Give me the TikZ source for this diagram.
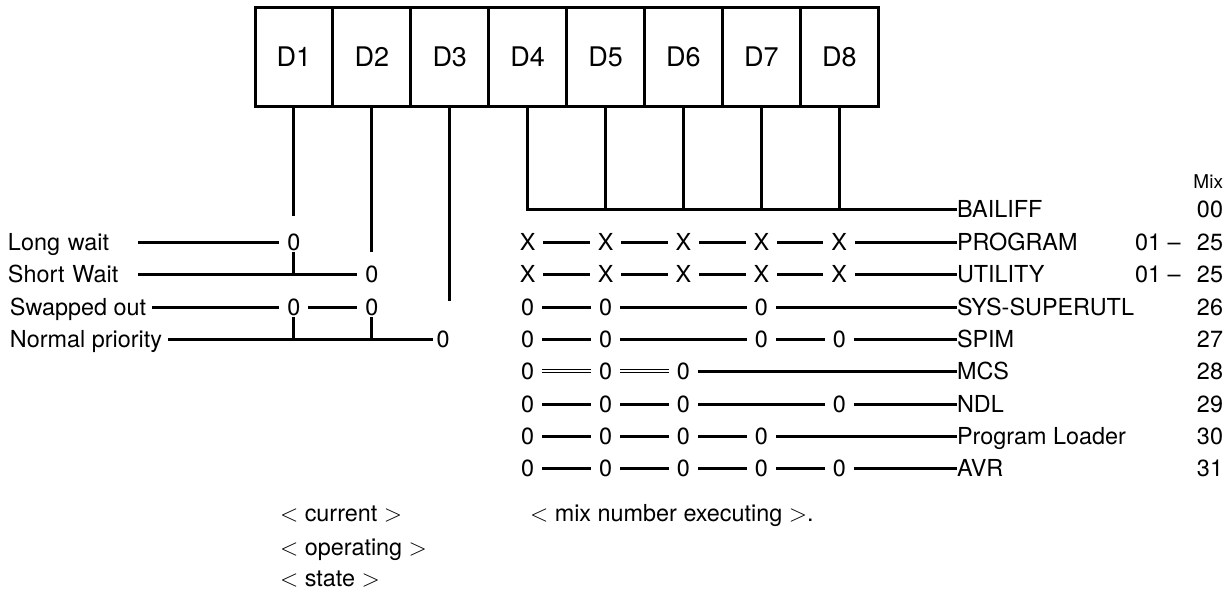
\documentclass[tikz,border=0pt]{standalone}
\usepackage{fontspec}
\setmainfont{TeX Gyre Heros}
\usetikzlibrary{calc}
\newcommand\rowfont{\fontsize{11.7}{14}\selectfont}
\newcommand\cellfont{\fontsize{13.5}{16}\selectfont}
\tikzset{
  wire/.style={line width=1.5pt},
  dbl/.style={double, line width=0.7pt, double distance=0.9pt},
  cell/.style={draw, line width=1.5pt, outer sep=0pt, inner sep=0pt,
    minimum width=38.95pt, minimum height=49.5pt, font=\cellfont},
  sym/.style={inner xsep=4pt, inner ysep=1pt, outer sep=0pt,
    text height=8.4pt, text depth=0pt, font=\rowfont},
  lab/.style={anchor=west, inner xsep=3pt, inner ysep=1pt, outer sep=0pt,
    text height=8.4pt, text depth=0pt, font=\rowfont},
  rlab/.style={lab, inner xsep=0pt},
  num/.style={lab, anchor=east, inner xsep=0pt},
}
\begin{document}
\begin{tikzpicture}[x=0.5pt, y=-0.5pt]
  \useasboundingbox (0,0) rectangle (1230,591);
  % the eight cells
  \foreach \i in {1,...,8}
    \node[cell] (d\i) at ({255+77.9*(\i-0.5)},56.5) {D\i};

  % left hand states
  \node[lab, text width=62pt] (lw) at (2,242) {Long wait};
  \node[lab, text width=62pt] (sw) at (2,274) {Short Wait};
  \node[lab] (so) at (4,307) {Swapped out};
  \node[lab] (np) at (4,339) {Normal priority};
  \node[sym] (lw0) at (d1 |- 0,242) {0};
  \node[sym] (sw0) at (d2 |- 0,274) {0};
  \node[sym] (so1) at (d1 |- 0,307) {0};
  \node[sym] (so2) at (d2 |- 0,307) {0};
  \node[sym, inner xsep=2pt] (np0) at (443,339) {0};
  \draw[wire] (lw) -- (lw0);
  \draw[wire] (sw) -- (sw0);
  \draw[wire] (so) -- (so1) -- (so2);
  \draw[wire] (np) -- (np0);
  \draw[wire, shorten >=8pt] (d1) -- (lw0);
  \draw[wire, shorten >=6pt] (d2) -- (sw0);
  \draw[wire, shorten >=14pt] (d3) -- (d3 |- np0.north);
  \draw[wire] (lw0) -- (lw0 |- sw0);
  \draw[wire] (so1) -- (so1 |- np0);
  \draw[wire] (so2) -- (so2 |- np0);

  % right hand mix names
  \node[num, font=\fontsize{9.5}{11}\selectfont] (mixh) at (1223,180) {Mix};
  \node[rlab] (bai) at (957,209) {BAILIFF};
  \node[num] (nbai) at (1223,209) {00};
  \foreach \nm/\yy/\txt/\mx in {pr/242/PROGRAM/25, ut/274/UTILITY/25,
      sy/307/SYS-SUPERUTL/26, sp/339/SPIM/27, mc/371/MCS/28,
      nd/404/NDL/29, pl/436/Program Loader/30, av/468/AVR/31}{
    \node[rlab] (\nm) at (957,\yy) {\txt};
    \node[num] (n\nm) at (1223,\yy) {\mx};
  }
  \node[rlab] (rpr) at (1135,242) {01 --};
  \node[rlab] (rut) at (1135,274) {01 --};

  % D4 - D8 onto BAILIFF
  \draw[wire] (d4) |- (bai);
  \foreach \i in {5,...,8}
    \draw[wire] (d\i) -- (d\i |- bai);

  % marks
  \foreach \c in {4,...,8} {
    \node[sym] (pr\c) at (d\c |- 0,242) {X};
    \node[sym] (ut\c) at (d\c |- 0,274) {X};
    \node[sym] (av\c) at (d\c |- 0,468) {0};
  }
  \foreach \c in {4,5,7} \node[sym] (sy\c) at (d\c |- 0,307) {0};
  \foreach \c in {4,5,7,8} \node[sym] (sp\c) at (d\c |- 0,339) {0};
  \foreach \c in {4,5,6} \node[sym] (mc\c) at (d\c |- 0,371) {0};
  \foreach \c in {4,5,6,8} \node[sym] (nd\c) at (d\c |- 0,404) {0};
  \foreach \c in {4,5,6,7} \node[sym] (pl\c) at (d\c |- 0,436) {0};

  \draw[wire] (pr4) -- (pr5) -- (pr6) -- (pr7) -- (pr8) -- (pr);
  \draw[wire] (ut4) -- (ut5) -- (ut6) -- (ut7) -- (ut8) -- (ut);
  \draw[wire] (sy4) -- (sy5) -- (sy7) -- (sy);
  \draw[wire] (sp4) -- (sp5) -- (sp7) -- (sp8) -- (sp);
  \draw[dbl] (mc4) -- (mc5) -- (mc6);
  \draw[wire] (mc6) -- (mc);
  \draw[wire] (nd4) -- (nd5) -- (nd6) -- (nd8) -- (nd);
  \draw[wire] (pl4) -- (pl5) -- (pl6) -- (pl7) -- (pl);
  \draw[wire] (av4) -- (av5) -- (av6) -- (av7) -- (av8) -- (av);

  % bottom notes
  \node[lab, inner xsep=0pt] (cur) at (280,513) {$<$ current $>$};
  \node[lab, inner xsep=0pt] (opr) at (280,547) {$<$ operating $>$};
  \node[lab, inner xsep=0pt] (sta) at (280,578) {$<$ state $>$};
  \node[lab, inner xsep=0pt] (mxe) at (530,513) {$<$ mix number executing $>$.};
\end{tikzpicture}
\end{document}
